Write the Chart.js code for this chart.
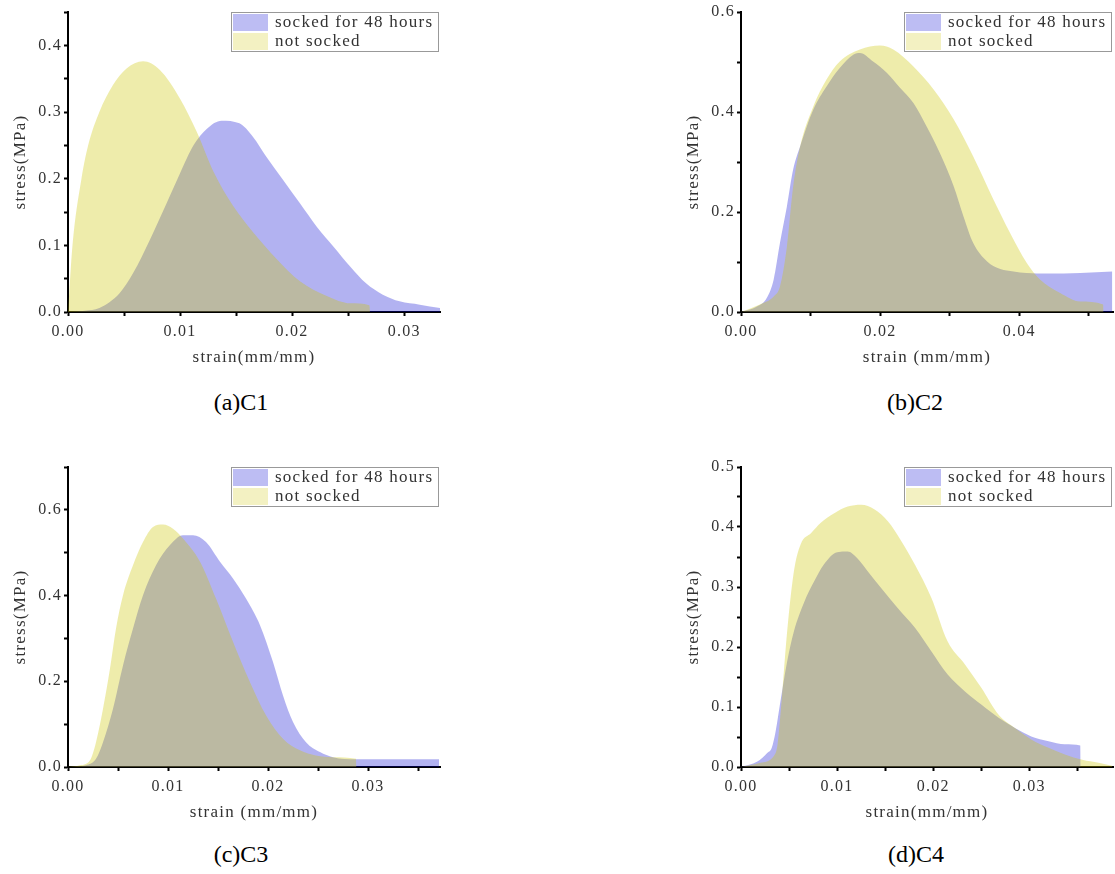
<!DOCTYPE html>
<html>
<head>
<meta charset="utf-8">
<script src="https://cdn.jsdelivr.net/npm/chart.js@4.4.0/dist/chart.umd.min.js"></script>
<style>
  body { margin: 0; background: #fff; width: 1115px; height: 874px; position: relative; overflow: hidden; }
  canvas { position: absolute; }
  .caption { position: absolute; width: 200px; text-align: center; font-family: "Liberation Serif", "Times New Roman", serif; font-size: 24px; line-height: 28px; color: #000; }
</style>
</head>
<body>
<canvas id="c1" width="450" height="372" style="left:0;top:0"></canvas>
<canvas id="c2" width="442" height="372" style="left:673px;top:0"></canvas>
<canvas id="c3" width="450" height="372" style="left:0;top:455px"></canvas>
<canvas id="c4" width="442" height="372" style="left:673px;top:455px"></canvas>
<div class="caption" style="left:141px;top:388px">(a)C1</div>
<div class="caption" style="left:815px;top:388px">(b)C2</div>
<div class="caption" style="left:141px;top:840px">(c)C3</div>
<div class="caption" style="left:816px;top:840px">(d)C4</div>
<script>
// legend labels
const seriesLabels = ["socked for 48 hours", "not socked"];

// C1
const c1SockedStrain = [0, 0.0015, 0.0028, 0.0046, 0.0058, 0.0073, 0.0088, 0.0100, 0.0112, 0.0124, 0.0137, 0.0153, 0.0165, 0.0177, 0.0192, 0.0207, 0.0222, 0.0237, 0.0252, 0.0266, 0.0281, 0.0296, 0.0314, 0.0332];
const c1SockedStress = [0, 0.002, 0.006, 0.028, 0.058, 0.108, 0.163, 0.208, 0.250, 0.275, 0.287, 0.283, 0.263, 0.233, 0.198, 0.163, 0.128, 0.098, 0.068, 0.043, 0.026, 0.016, 0.011, 0.006];
const c1NotStrain = [0, 0.0004, 0.0012, 0.0018, 0.0028, 0.0040, 0.0052, 0.0067, 0.0082, 0.0100, 0.0115, 0.0130, 0.0147, 0.0165, 0.0186, 0.0207, 0.0231, 0.0252, 0.0269, 0.02695];
const c1NotStress = [0, 0.100, 0.200, 0.250, 0.300, 0.340, 0.365, 0.376, 0.363, 0.320, 0.270, 0.210, 0.160, 0.120, 0.080, 0.046, 0.024, 0.013, 0.010, 0];

// C2
const c2SockedStrain = [0, 0.0023, 0.0037, 0.0047, 0.0056, 0.0066, 0.0075, 0.0085, 0.0104, 0.0123, 0.0142, 0.0162, 0.0171, 0.0190, 0.0210, 0.0229, 0.0248, 0.0267, 0.0286, 0.0306, 0.0320, 0.0334, 0.0354, 0.0373, 0.0392, 0.0411, 0.0440, 0.0488, 0.0534];
const c2SockedStress = [0, 0.011, 0.028, 0.065, 0.138, 0.211, 0.285, 0.331, 0.405, 0.451, 0.488, 0.515, 0.518, 0.501, 0.478, 0.448, 0.418, 0.371, 0.318, 0.251, 0.191, 0.138, 0.101, 0.086, 0.081, 0.078, 0.077, 0.078, 0.081];
const c2NotStrain = [0, 0.0027, 0.0047, 0.0056, 0.0066, 0.0075, 0.0085, 0.0104, 0.0123, 0.0142, 0.0171, 0.0200, 0.0219, 0.0248, 0.0277, 0.0306, 0.0334, 0.0363, 0.0387, 0.0411, 0.0430, 0.0459, 0.0488, 0.0521, 0.05215];
const c2NotStress = [0, 0.015, 0.031, 0.051, 0.131, 0.251, 0.331, 0.411, 0.465, 0.501, 0.525, 0.533, 0.525, 0.491, 0.445, 0.385, 0.311, 0.225, 0.158, 0.098, 0.065, 0.038, 0.021, 0.015, 0];

// C3
const c3SockedStrain = [0, 0.0018, 0.0028, 0.0035, 0.0045, 0.0055, 0.0065, 0.0075, 0.0088, 0.0102, 0.0115, 0.0125, 0.0138, 0.0152, 0.0165, 0.0178, 0.0192, 0.0205, 0.0215, 0.0225, 0.0238, 0.0252, 0.0265, 0.0288, 0.0315, 0.0371];
const c3SockedStress = [0, 0.004, 0.019, 0.058, 0.136, 0.237, 0.323, 0.401, 0.471, 0.518, 0.541, 0.541, 0.525, 0.479, 0.440, 0.393, 0.331, 0.245, 0.167, 0.105, 0.058, 0.035, 0.023, 0.018, 0.018, 0.018];
const c3NotStrain = [0, 0.0012, 0.0022, 0.0028, 0.0035, 0.0042, 0.0048, 0.0055, 0.0065, 0.0075, 0.0085, 0.0095, 0.0105, 0.0115, 0.0132, 0.0148, 0.0165, 0.0182, 0.0198, 0.0215, 0.0232, 0.0248, 0.0265, 0.0288, 0.02885];
const c3NotStress = [0, 0.004, 0.016, 0.058, 0.136, 0.230, 0.323, 0.401, 0.471, 0.525, 0.560, 0.566, 0.556, 0.533, 0.479, 0.393, 0.292, 0.198, 0.121, 0.066, 0.039, 0.027, 0.023, 0.019, 0];

// C4
const c4SockedStrain = [0, 0.0017, 0.0027, 0.0032, 0.0036, 0.0041, 0.0048, 0.0055, 0.0066, 0.0076, 0.0086, 0.0100, 0.0111, 0.0121, 0.0132, 0.0146, 0.0163, 0.0181, 0.0198, 0.0215, 0.0233, 0.0250, 0.0268, 0.0285, 0.0302, 0.0320, 0.0337, 0.0353, 0.03535];
const c4SockedStress = [0, 0.009, 0.023, 0.032, 0.059, 0.109, 0.176, 0.226, 0.276, 0.309, 0.337, 0.358, 0.359, 0.348, 0.326, 0.298, 0.265, 0.232, 0.193, 0.154, 0.126, 0.104, 0.082, 0.065, 0.051, 0.043, 0.038, 0.036, 0];
const c4NotStrain = [0, 0.0020, 0.0034, 0.0038, 0.0041, 0.0048, 0.0055, 0.0062, 0.0073, 0.0083, 0.0097, 0.0111, 0.0125, 0.0139, 0.0153, 0.0167, 0.0181, 0.0198, 0.0215, 0.0233, 0.0250, 0.0268, 0.0285, 0.0302, 0.0320, 0.0337, 0.0355, 0.0372, 0.0386];
const c4NotStress = [0, 0.007, 0.018, 0.037, 0.087, 0.226, 0.326, 0.371, 0.390, 0.407, 0.423, 0.434, 0.437, 0.429, 0.409, 0.376, 0.337, 0.282, 0.209, 0.171, 0.132, 0.087, 0.065, 0.046, 0.032, 0.021, 0.012, 0.007, 0.002];

const blueFill = "rgba(0, 0, 207, 0.3)";
const yellowFill = "rgba(203, 197, 0, 0.33)";
const swatches = ["rgba(0, 0, 207, 0.26)", "rgba(203, 197, 0, 0.24)"];
const serif = '"Liberation Serif", "Times New Roman", serif';
const textColor = "#333";

function toPoints(xs, ys) {
  return xs.map((x, i) => ({ x: x, y: ys[i] }));
}

function onStep(v, step) {
  return Math.abs(v / step - Math.round(v / step)) < 1e-6;
}

// wide spacing so the serif text looks like the original mono-width font
const spacedText = {
  id: "spacedText",
  beforeDraw(chart) {
    chart.ctx.letterSpacing = "1.25px";
  }
};

// legend box drawn inside the plot, top right
const insideLegend = {
  id: "insideLegend",
  afterDraw(chart) {
    const { ctx, chartArea } = chart;
    const w = 207, h = 39;
    const x = chartArea.right - 209, y = chartArea.top;
    ctx.save();
    ctx.fillStyle = "#fff";
    ctx.fillRect(x, y, w, h);
    ctx.strokeStyle = "#999";
    ctx.lineWidth = 1;
    ctx.strokeRect(x + 0.5, y + 0.5, w, h);
    ctx.font = "17px " + serif;
    ctx.textBaseline = "middle";
    chart.data.datasets.forEach((ds, i) => {
      ctx.fillStyle = swatches[i];
      ctx.fillRect(x + 2, y + 2 + i * 19, 35, 17);
      ctx.fillStyle = textColor;
      ctx.fillText(ds.label, x + 44, y + 11 + i * 19);
    });
    ctx.restore();
  }
};

function drawPanel(id, p) {
  new Chart(document.getElementById(id), {
    type: "line",
    data: {
      datasets: [
        {
          label: seriesLabels[0],
          data: toPoints(p.sockedStrain, p.sockedStress),
          backgroundColor: blueFill,
          borderColor: "rgba(0,0,0,0)",
          fill: "origin",
          order: 1,
        },
        {
          label: seriesLabels[1],
          data: toPoints(p.notStrain, p.notStress),
          backgroundColor: yellowFill,
          borderColor: "rgba(0,0,0,0)",
          fill: "origin",
          order: 0,
        },
      ],
    },
    options: {
      responsive: false,
      animation: false,
      devicePixelRatio: 1,
      layout: { padding: { top: 12, right: p.padRight, left: 0, bottom: 0 } },
      elements: {
        line: { borderWidth: 0, cubicInterpolationMode: "monotone" },
        point: { radius: 0 },
      },
      plugins: { legend: { display: false }, tooltip: { enabled: false } },
      scales: {
        x: {
          type: "linear",
          min: 0,
          max: p.xMax,
          afterFit: (s) => { s.height = 60; },
          afterBuildTicks: (s) => { s.ticks = s.ticks.filter((t) => onStep(t.value, p.xStep)); },
          ticks: {
            stepSize: p.xStep,
            includeBounds: false,
            autoSkip: false,
            maxRotation: 0,
            padding: 6,
            color: textColor,
            font: { family: serif, size: 16 },
            callback: (v) => (onStep(v, p.xLabelStep) ? v.toFixed(2) : ""),
          },
          grid: { drawOnChartArea: false, tickLength: 4, tickWidth: 2, tickColor: "#000" },
          border: { display: true, color: "#000", width: 2 },
          title: {
            display: true,
            text: p.xTitle,
            color: textColor,
            font: { family: serif, size: 17 },
            padding: { top: 0, bottom: 4 },
          },
        },
        y: {
          min: 0,
          max: p.yMax,
          afterFit: (s) => { s.width = 68; },
          afterBuildTicks: (s) => { s.ticks = s.ticks.filter((t) => onStep(t.value, p.yStep)); },
          ticks: {
            stepSize: p.yStep,
            includeBounds: false,
            autoSkip: false,
            padding: 2,
            color: textColor,
            font: { family: serif, size: 16 },
            callback: (v) => (onStep(v, p.yLabelStep) ? v.toFixed(1) : ""),
          },
          grid: { drawOnChartArea: false, tickLength: 4, tickWidth: 2, tickColor: "#000" },
          border: { display: true, color: "#000", width: 2 },
          title: {
            display: true,
            text: "stress(MPa)",
            color: textColor,
            font: { family: serif, size: 17 },
            padding: { top: 10, bottom: 0 },
          },
        },
      },
    },
    plugins: [spacedText, insideLegend],
  });
}

drawPanel("c1", {
  sockedStrain: c1SockedStrain, sockedStress: c1SockedStress,
  notStrain: c1NotStrain, notStress: c1NotStress,
  xMax: 0.0332, xStep: 0.005, xLabelStep: 0.01,
  yMax: 0.45, yStep: 0.05, yLabelStep: 0.1,
  xTitle: "strain(mm/mm)", padRight: 10,
});
drawPanel("c2", {
  sockedStrain: c2SockedStrain, sockedStress: c2SockedStress,
  notStrain: c2NotStrain, notStress: c2NotStress,
  xMax: 0.0535, xStep: 0.01, xLabelStep: 0.02,
  yMax: 0.6, yStep: 0.1, yLabelStep: 0.2,
  xTitle: "strain (mm/mm)", padRight: 2,
});
drawPanel("c3", {
  sockedStrain: c3SockedStrain, sockedStress: c3SockedStress,
  notStrain: c3NotStrain, notStress: c3NotStress,
  xMax: 0.0372, xStep: 0.005, xLabelStep: 0.01,
  yMax: 0.7, yStep: 0.1, yLabelStep: 0.2,
  xTitle: "strain (mm/mm)", padRight: 10,
});
drawPanel("c4", {
  sockedStrain: c4SockedStrain, sockedStress: c4SockedStress,
  notStrain: c4NotStrain, notStress: c4NotStress,
  xMax: 0.0387, xStep: 0.005, xLabelStep: 0.01,
  yMax: 0.5, yStep: 0.05, yLabelStep: 0.1,
  xTitle: "strain(mm/mm)", padRight: 2,
});
</script>
</body>
</html>
